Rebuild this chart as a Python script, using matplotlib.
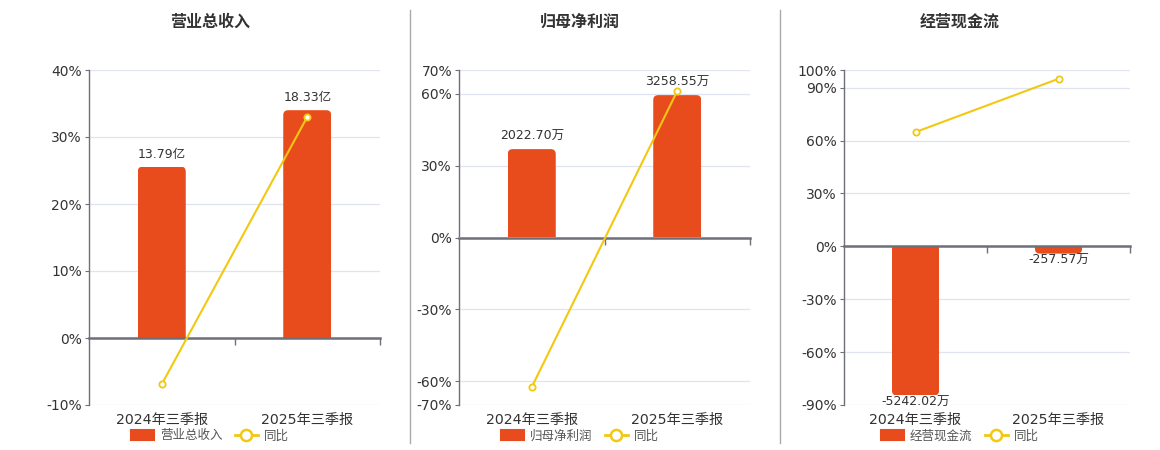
import matplotlib
matplotlib.use("Agg")
import matplotlib.pyplot as plt
from matplotlib.lines import Line2D
from matplotlib.patches import Patch, FancyBboxPatch

plt.rcParams['font.family'] = ['DejaVu Sans', 'Noto Sans CJK SC']

categories = ['2024年三季报', '2025年三季报']
titles = ['营业总收入', '归母净利润', '经营现金流']
bar_names = ['营业总收入', '归母净利润', '经营现金流']
yoy_name = '同比'

revenue_yi = [13.79, 18.33]
revenue_yoy = [-6.9, 33.0]
profit_wan = [2022.70, 3258.55]
profit_yoy = [-62.5, 61.2]
cashflow_wan = [-5242.02, -257.57]
cashflow_yoy = [64.8, 95.0]

bar_units = ['亿', '万', '万']
ticks1 = [-10, 0, 10, 20, 30, 40]
ticks2 = [-70, -60, -30, 0, 30, 60, 70]
ticks3 = [-90, -60, -30, 0, 30, 60, 90, 100]

bars_all = [revenue_yi, profit_wan, cashflow_wan]
yoy_all = [revenue_yoy, profit_yoy, cashflow_yoy]
ticks_all = [ticks1, ticks2, ticks3]
bar_reach = [0.85, 0.85, 0.94]

BAR_C = '#E84C1D'
LINE_C = '#F2C811'
GRID_C = '#DFE4F0'
AXIS_C = '#6E7079'
TXT_C = '#333333'

W, H = 1160, 450
fig = plt.figure(figsize=(W / 100, H / 100), dpi=100)

axes_px = [(89, 380), (459, 750), (844, 1130)]
title_x = [210, 580, 960]
top_px, bot_px = 70, 405
RADIUS_PX = 5
BAR_W = 0.33

for i in range(3):
    l, r = axes_px[i]
    rect = [l / W, 1 - bot_px / H, (r - l) / W, (bot_px - top_px) / H]
    ticks = ticks_all[i]
    ymin, ymax = min(ticks), max(ticks)

    ax = fig.add_axes(rect)
    ax.set_xlim(-0.5, 1.5)
    ax.set_ylim(ymin, ymax)
    ax.set_yticks(ticks)
    ax.set_yticklabels([f'{t}%' for t in ticks], color=TXT_C, fontsize=10)
    ax.tick_params(axis='y', length=3, color=AXIS_C, pad=2)
    ax.set_xticks([0, 1])
    ax.set_xticklabels(categories, fontsize=10.2, color=TXT_C)
    ax.tick_params(axis='x', length=0, pad=6)
    ax.grid(axis='y', color=GRID_C, lw=0.9)
    ax.set_axisbelow(True)
    for s in ['top', 'right', 'bottom']:
        ax.spines[s].set_visible(False)
    ax.spines['left'].set_color(AXIS_C)
    ax.spines['left'].set_linewidth(1.0)

    # bar axis
    vals = bars_all[i]
    vmax = max(abs(v) for v in vals)
    side = ymax if max(vals) > 0 else -ymin
    k = bar_reach[i] * side / vmax
    axb = ax.twinx()
    b_lo, b_hi = ymin / k, ymax / k
    axb.set_ylim(b_lo, b_hi)
    axb.set_xlim(-0.5, 1.5)
    axb.axis('off')
    axb.patch.set_visible(False)
    xs = list(range(len(categories)))
    bars = axb.bar(xs, vals, width=BAR_W, color=BAR_C, linewidth=0, zorder=2)

    # rounded far-end corners via clip path
    rx = RADIUS_PX / ((r - l) / 2.0)
    ry = RADIUS_PX / ((bot_px - top_px) / (b_hi - b_lo))
    for bar in bars:
        x0, y0, w, h = bar.get_x(), bar.get_y(), bar.get_width(), bar.get_height()
        lo, hi = min(y0, y0 + h), max(y0, y0 + h)
        if h >= 0:
            lo -= ry
        else:
            hi += ry
        clip = FancyBboxPatch((x0, lo), w, hi - lo,
                              boxstyle=f'round,pad=0,rounding_size={rx}',
                              mutation_aspect=ry / rx,
                              transform=axb.transData)
        bar.set_clip_path(clip)

    for x, v in zip(xs, vals):
        lab = f'{v:.2f}{bar_units[i]}'
        off = 9 if v >= 0 else -5
        axb.annotate(lab, (x, v), xytext=(0, off), textcoords='offset points',
                     ha='center', va='center', fontsize=9, color=TXT_C)

    # line axis
    axl = ax.twinx()
    axl.set_ylim(ymin, ymax)
    axl.set_xlim(-0.5, 1.5)
    axl.axis('off')
    axl.patch.set_visible(False)
    axl.plot(xs, yoy_all[i], color=LINE_C, lw=1.5, marker='o', markersize=4.5,
             markerfacecolor='white', markeredgecolor=LINE_C, markeredgewidth=1.3,
             zorder=3)

    # zero axis line with boundary ticks
    loc = (0 - ymin) / (ymax - ymin)
    sec = axl.secondary_xaxis(loc)
    sec.set_alignment('bottom')
    sec.set_xticks([0.5, 1.5])
    sec.set_xticklabels(['', ''])
    sec.tick_params(axis='x', length=5, color=AXIS_C, width=1, direction='out')
    sec.spines['bottom'].set_color(AXIS_C)
    sec.spines['bottom'].set_linewidth(1.8)

    fig.text(title_x[i] / W, 1 - 22 / H, titles[i], ha='center', va='center',
             fontsize=11.5, fontweight='bold', color=TXT_C,
             family=['Noto Sans CJK SC', 'DejaVu Sans'])

    handles = [Patch(facecolor=BAR_C, edgecolor=BAR_C, joinstyle='round', lw=1.5),
               Line2D([], [], color=LINE_C, lw=2, marker='o', markersize=8,
                      markerfacecolor='white', markeredgecolor=LINE_C,
                      markeredgewidth=1.8)]
    ax.legend(handles, [bar_names[i], yoy_name], loc='center',
              bbox_to_anchor=(title_x[i] / W, 1 - 436 / H),
              bbox_transform=fig.transFigure, ncol=2, frameon=False,
              handlelength=1.8, handleheight=0.9,
              columnspacing=1.0, handletextpad=0.5,
              labelcolor='#555555',
              prop={'family': ['Noto Sans CJK SC', 'DejaVu Sans'], 'size': 9})

for xpx in [410, 780]:
    fig.add_artist(Line2D([xpx / W, xpx / W], [1 - 10 / H, 1 - 443 / H],
                          color='#AAAAAA', lw=1, transform=fig.transFigure))

fig.savefig('out.png', dpi=100)
